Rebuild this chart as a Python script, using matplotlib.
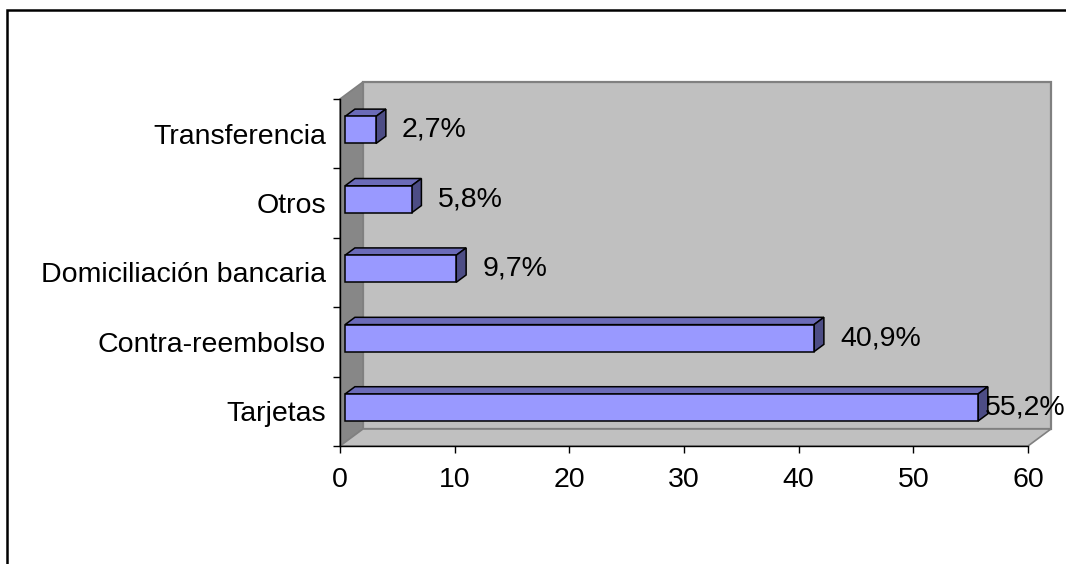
import matplotlib
matplotlib.use("Agg")
import matplotlib.pyplot as plt
from matplotlib.patches import Polygon, Rectangle

plt.rcParams['font.family'] = ['Liberation Sans', 'DejaVu Sans']

# payment methods, bottom to top
categorias = ["Tarjetas", "Contra-reembolso", "Domiciliación bancaria", "Otros", "Transferencia"]
porcentajes = [55.2, 40.9, 9.7, 5.8, 2.7]
etiquetas = ["55,2%", "40,9%", "9,7%", "5,8%", "2,7%"]
xticks = [0, 10, 20, 30, 40, 50, 60]

XMAX = 60
DX, DY = 2.0, 0.245          # depth of the 3d box in data units
D0, D1 = 0.22, 0.65          # front / back of the bars inside the depth
H = 0.39                     # bar thickness
FS = 20.5

C_FRONT = '#9999ff'
C_TOP = '#6b6bb8'
C_SIDE = '#4d4d85'
C_WALL = '#c0c0c0'
C_LWALL = '#878787'
C_EDGE = '#808080'

fig = plt.figure(figsize=(10.66, 5.64), dpi=100)
ax = fig.add_axes([340/1066, (564-446)/564, 688/1066, 347/564])
ax.set_xlim(0, XMAX)
ax.set_ylim(-0.5, len(categorias) - 0.5)
ax.set_facecolor('none')

ylo, yhi = -0.5, len(categorias) - 0.5

# walls and floor
back = Rectangle((DX, ylo + DY), XMAX, yhi - ylo, facecolor=C_WALL,
                 edgecolor=C_EDGE, lw=1.6, clip_on=False, zorder=0)
left = Polygon([(0, ylo), (DX, ylo + DY), (DX, yhi + DY), (0, yhi)],
               closed=True, facecolor=C_LWALL, edgecolor=C_EDGE, lw=1.2,
               clip_on=False, zorder=0)
floor = Polygon([(0, ylo), (XMAX, ylo), (XMAX + DX, ylo + DY), (DX, ylo + DY)],
                closed=True, facecolor=C_WALL, edgecolor=C_EDGE, lw=1.2,
                clip_on=False, zorder=0.5)
for p in (back, left, floor):
    ax.add_patch(p)

# bars: front face through barh, then top and side faces
pos = list(range(len(categorias)))
ox0, oy0 = D0 * DX, D0 * DY
ox1, oy1 = D1 * DX, D1 * DY
ax.barh([p + oy0 for p in pos], porcentajes, height=H, left=ox0,
        color=C_FRONT, edgecolor='black', lw=1.1, zorder=3, clip_on=False)
for p, v in zip(pos, porcentajes):
    top = p + H / 2
    bot = p - H / 2
    ax.add_patch(Polygon([(ox0, top + oy0), (ox0 + v, top + oy0),
                          (ox1 + v, top + oy1), (ox1, top + oy1)],
                         closed=True, facecolor=C_TOP, edgecolor='black',
                         lw=1.1, zorder=2, clip_on=False))
    ax.add_patch(Polygon([(ox0 + v, bot + oy0), (ox1 + v, bot + oy1),
                          (ox1 + v, top + oy1), (ox0 + v, top + oy0)],
                         closed=True, facecolor=C_SIDE, edgecolor='black',
                         lw=1.1, zorder=2, clip_on=False))

# value labels, kept inside the chart on the right
for p, v, t in zip(pos, porcentajes, etiquetas):
    lx = min(v + 2.7, 56.2)
    ax.text(lx, p + oy0, t, ha='left', va='center', fontsize=FS,
            zorder=4, clip_on=False)

# axes
for s in ('top', 'right'):
    ax.spines[s].set_visible(False)
ax.spines['bottom'].set_linewidth(1.0)
ax.spines['left'].set_linewidth(1.0)
ax.spines['bottom'].set_zorder(5)
ax.set_xticks(xticks)
ax.set_xticklabels([str(x) for x in xticks], fontsize=FS)
ax.tick_params(axis='x', direction='out', length=5, width=1, pad=10)
ax.set_yticks([p - 0.5 for p in pos] + [yhi])
ax.set_yticklabels([])
ax.tick_params(axis='y', which='major', direction='out', length=5, width=1)
ax.set_yticks(pos, minor=True)
ax.set_yticklabels(categorias, minor=True, fontsize=FS)
ax.tick_params(axis='y', which='minor', length=0, pad=10)

# outer frame
fig.patches.append(Rectangle((7/1066, -0.1), 1.2, (564-10)/564 + 0.1,
                             transform=fig.transFigure, fill=False,
                             edgecolor='black', lw=1.8))

fig.savefig("out.png", dpi=100)
